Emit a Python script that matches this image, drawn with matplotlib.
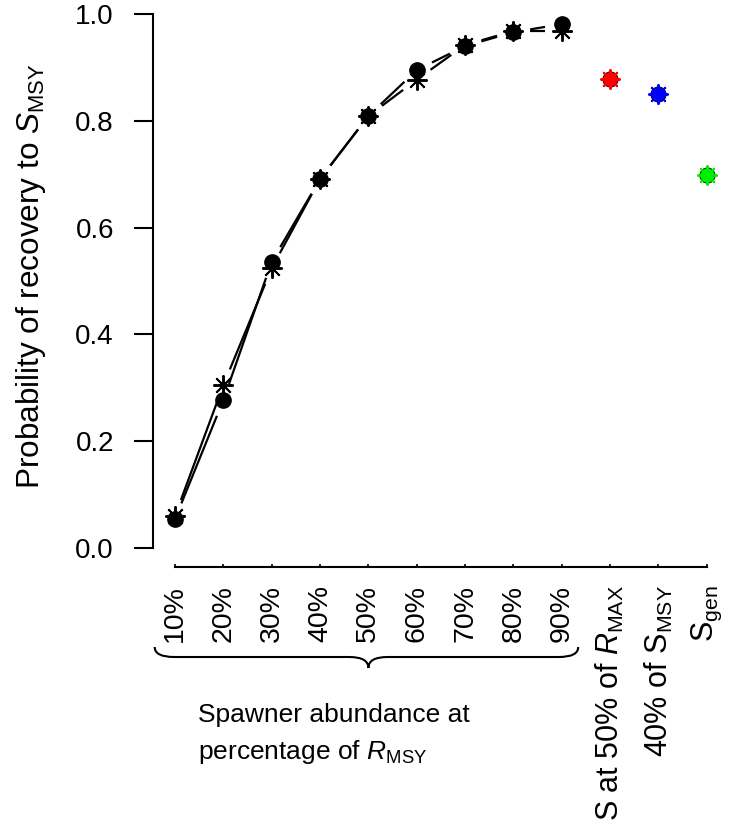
import numpy as np
import matplotlib
matplotlib.use("Agg")
from matplotlib import pyplot as plt
from matplotlib.path import Path
from matplotlib.patches import PathPatch
from matplotlib.transforms import blended_transform_factory

plt.rcParams['font.family'] = ['Liberation Sans', 'DejaVu Sans']
plt.rcParams['mathtext.fontset'] = 'custom'
plt.rcParams['mathtext.rm'] = 'Liberation Sans'
plt.rcParams['mathtext.it'] = 'Liberation Sans:italic'

# data
pct_labels = ['10%', '20%', '30%', '40%', '50%', '60%', '70%', '80%', '90%']
ref_labels = [r'S at 50% of $\mathit{R}_{\mathrm{MAX}}$',
              r'40% of S$_{\mathrm{MSY}}$',
              r'S$_{\mathrm{gen}}$']
circle_vals = [0.054, 0.277, 0.536, 0.691, 0.809, 0.895, 0.940, 0.966, 0.981]
star_vals = [0.060, 0.305, 0.524, 0.691, 0.809, 0.877, 0.942, 0.968, 0.968]
ref_vals = [0.878, 0.851, 0.699]
ref_colors = ['#ff0000', '#0000ff', '#00ee00']

FS = 22
W, H = 731, 830
fig = plt.figure(figsize=(W / 100, H / 100), dpi=100)
ax = fig.add_axes([153 / W, (H - 548) / H, (W - 153) / W, 534 / H])

xs = np.arange(1, len(pct_labels) + 1)
xr = np.arange(len(pct_labels) + 1, len(pct_labels) + len(ref_labels) + 1)

ax.set_xlim(0.545, 12.5)
ax.set_ylim(0, 1)

def gapped_line(x, y, gap=17, **kw): # R type="b": line broken near each point
    pts = ax.transData.transform(np.column_stack([x, y]))
    inv = ax.transData.inverted()
    for p0, p1 in zip(pts[:-1], pts[1:]):
        d = p1 - p0
        L = np.hypot(*d)
        if L <= 2 * gap:
            continue
        u = d / L
        a, b = inv.transform([p0 + u * gap, p1 - u * gap])
        ax.plot([a[0], b[0]], [a[1], b[1]], **kw)

gapped_line(xs, circle_vals, color='black', lw=1.6, solid_capstyle='butt')
gapped_line(xs, star_vals, color='black', lw=1.6, solid_capstyle='butt')

ax.plot(xs, circle_vals, 'o', color='black', ms=11, mec='black', ls='none')
ax.plot(xs, star_vals, marker=(8, 2, 0), color='black', ms=14.5, mew=1.4, ls='none')
for x, v, c in zip(xr, ref_vals, ref_colors):
    ax.plot(x, v, 'o', color=c, ms=11, mec='black', mew=0.6, ls='none')
    ax.plot(x, v, marker=(8, 2, 0), color=c, ms=14.5, mew=1.4, ls='none')

for s in ['top', 'right']:
    ax.spines[s].set_visible(False)
ax.spines['left'].set_bounds(0, 1)
ax.spines['left'].set_linewidth(1.5)
ax.spines['bottom'].set_bounds(1, 12)
ax.spines['bottom'].set_position(('outward', 13.7))
ax.spines['bottom'].set_linewidth(1.5)

ax.set_yticks([0, 0.2, 0.4, 0.6, 0.8, 1.0])
ax.set_yticklabels(['0.0', '0.2', '0.4', '0.6', '0.8', '1.0'])
ax.tick_params(axis='y', direction='out', length=13.7, width=1.5, pad=14.4, labelsize=20)

ax.set_xticks(np.concatenate([xs, xr]))
ax.set_xticklabels(pct_labels + ref_labels, rotation=90, va='top', ha='center')
ax.tick_params(axis='x', direction='in', length=2, width=1.2, pad=13, labelsize=FS)
for lab in ax.get_xticklabels()[:len(pct_labels)]:
    lab.set_fontsize(20.5)

fig.text(14 / W, (H - 276) / H, r'Probability of recovery to $\mathit{S}_{\mathrm{MSY}}$',
         rotation=90, ha='left', va='center', fontsize=22.7)

# curly brace under the percentage labels
tr = blended_transform_factory(ax.transData, fig.transFigure)
x0, x1 = xs[0] - 0.42, xs[-1] + 0.34
xc = (xs[0] + xs[-1]) / 2
dx = 0.4
ytop, yl, ytip = (H - 647) / H, (H - 657) / H, (H - 668) / H
verts = [(x0, ytop), (x0, yl), (x0 + dx, yl),
         (xc - dx, yl),
         (xc, yl), (xc, ytip),
         (xc, yl), (xc + dx, yl),
         (x1 - dx, yl),
         (x1, yl), (x1, ytop)]
codes = [Path.MOVETO, Path.CURVE3, Path.CURVE3,
         Path.LINETO,
         Path.CURVE3, Path.CURVE3,
         Path.CURVE3, Path.CURVE3,
         Path.LINETO,
         Path.CURVE3, Path.CURVE3]
brace = PathPatch(Path(verts, codes), transform=tr, fill=False, lw=1.5,
                  edgecolor='black', clip_on=False)
fig.add_artist(brace)

fig.text(198 / W, (H - 715) / H, 'Spawner abundance at', fontsize=19,
         ha='left', va='center')
fig.text(198 / W, (H - 752) / H, r'percentage of $\mathit{R}_{\mathrm{MSY}}$',
         fontsize=19, ha='left', va='center')

fig.savefig('out.png', dpi=100)
